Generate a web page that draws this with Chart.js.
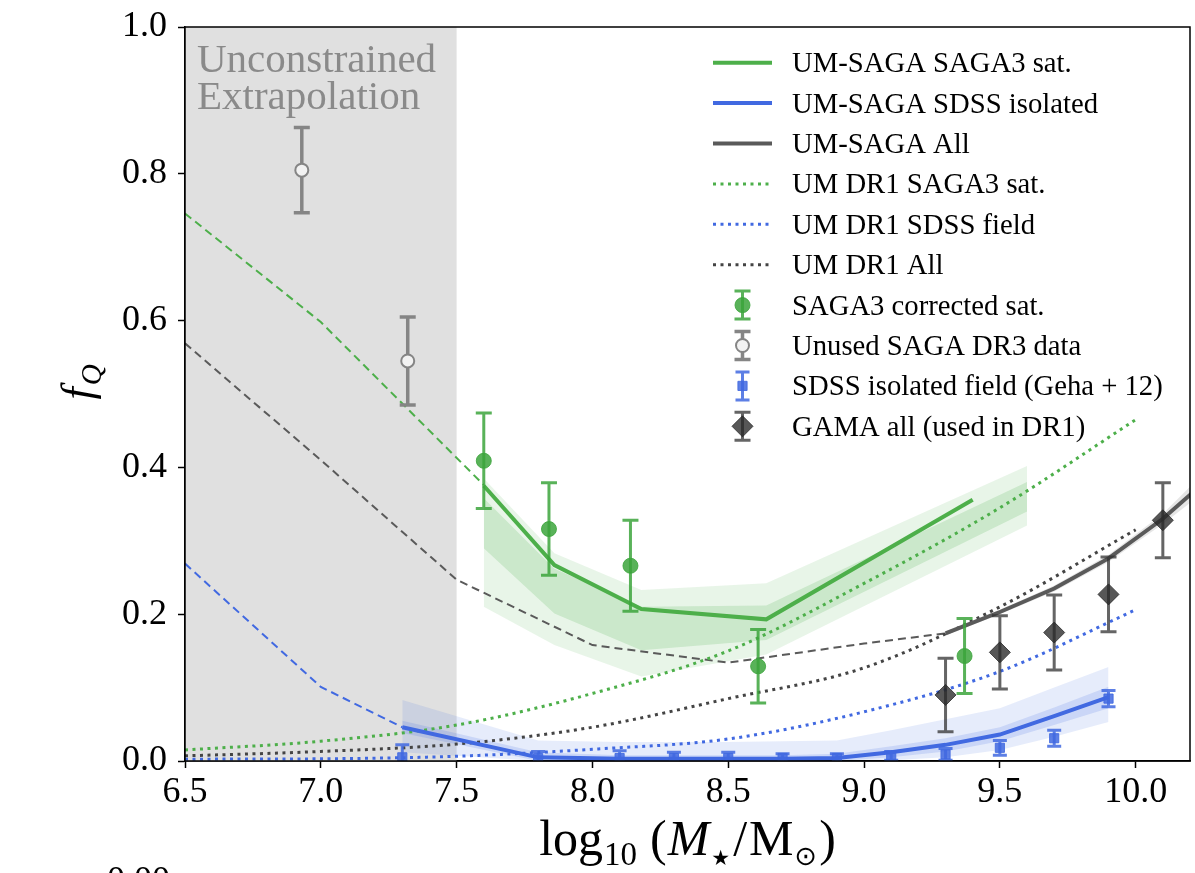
<!DOCTYPE html>
<html>
<head>
<meta charset="utf-8">
<script src="https://cdn.jsdelivr.net/npm/chart.js@4.4.1/dist/chart.umd.min.js"></script>
<style>
  html, body { margin: 0; padding: 0; background: #fff; }
  canvas { display: block; }
</style>
</head>
<body>
<canvas id="fracQ" width="1195" height="873"></canvas>
<script>
const SERIF = '"Liberation Serif", "DejaVu Serif", serif';
const SYMBOLS = '"DejaVu Sans", sans-serif';

// axes
const xTicks = [6.5, 7.0, 7.5, 8.0, 8.5, 9.0, 9.5, 10.0];
const yTicks = [0.0, 0.2, 0.4, 0.6, 0.8, 1.0];
const xLimits = [6.5, 10.2];
const yLimits = [0, 1];
const extrapolationRange = [6.5, 7.5];
const extrapolationText = ["Unconstrained", "Extrapolation"];

// SAGA3 corrected satellites
const sagaX = [7.6, 7.84, 8.14, 8.61, 9.37];
const sagaY = [0.409, 0.316, 0.266, 0.129, 0.143];
const sagaErr = [0.065, 0.063, 0.062, 0.05, 0.051];

// SAGA DR3 points not used in the fit
const unusedX = [6.93, 7.32];
const unusedY = [0.805, 0.545];
const unusedErr = [0.058, 0.06];

// SDSS isolated field (Geha+12)
const sdssX = [7.3, 7.8, 8.1, 8.3, 8.5, 8.7, 8.9, 9.1, 9.3, 9.5, 9.7, 9.9];
const sdssY = [0.005, 0.004, 0.004, 0.004, 0.004, 0.004, 0.004, 0.007, 0.009, 0.018, 0.031, 0.085];
const sdssErr = [0.017, 0.009, 0.01, 0.008, 0.008, 0.006, 0.006, 0.006, 0.008, 0.01, 0.011, 0.011];

// GAMA all
const gamaX = [9.3, 9.5, 9.7, 9.9, 10.1];
const gamaY = [0.09, 0.148, 0.175, 0.227, 0.328];
const gamaErr = [0.05, 0.05, 0.051, 0.051, 0.051];

// UM-SAGA satellites: median and bands
const umSatX = [7.6, 7.86, 8.18, 8.64, 9.4];
const umSatY = [0.375, 0.267, 0.207, 0.193, 0.356];
const umSatBandX = [7.6, 7.86, 8.18, 8.64, 9.6];
const umSatOuterHi = [0.385, 0.283, 0.233, 0.242, 0.402];
const umSatInnerHi = [0.358, 0.262, 0.21, 0.212, 0.38];
const umSatInnerLo = [0.29, 0.201, 0.151, 0.165, 0.34];
const umSatOuterLo = [0.21, 0.158, 0.115, 0.145, 0.321];

// UM-SAGA SDSS isolated: median and bands
const umIsoX = [7.3, 7.8, 8.1, 8.3, 8.5, 8.7, 8.9, 9.1, 9.3, 9.5, 9.7, 9.9];
const umIsoY = [0.046, 0.005, 0.003, 0.003, 0.003, 0.003, 0.004, 0.012, 0.022, 0.036, 0.061, 0.087];
const umIsoOuterHi = [0.083, 0.028, 0.026, 0.026, 0.026, 0.027, 0.028, 0.042, 0.057, 0.072, 0.1, 0.128];
const umIsoInnerHi = [0.055, 0.012, 0.008, 0.008, 0.008, 0.008, 0.01, 0.02, 0.031, 0.046, 0.073, 0.101];
const umIsoInnerLo = [0.038, 0, 0, 0, 0, 0, 0, 0.005, 0.013, 0.027, 0.049, 0.072];
const umIsoOuterLo = [0.012, 0, 0, 0, 0, 0, 0, 0.001, 0.005, 0.015, 0.033, 0.053];

// UM-SAGA all
const umAllX = [9.3, 9.5, 9.7, 9.9, 10.1, 10.3];
const umAllY = [0.174, 0.203, 0.235, 0.276, 0.33, 0.395];
const umAllHi = [0.177, 0.206, 0.239, 0.281, 0.337, 0.41];
const umAllLo = [0.171, 0.2, 0.231, 0.271, 0.323, 0.38];

// extrapolation below the constrained range (dashed)
const extSatX = [6.5, 7.0, 7.6];
const extSatY = [0.746, 0.598, 0.376];
const extIsoX = [6.5, 7.0, 7.3];
const extIsoY = [0.269, 0.101, 0.046];
const extAllX = [6.5, 7.0, 7.5, 8.0, 8.5, 9.0, 9.3];
const extAllY = [0.569, 0.41, 0.247, 0.158, 0.134, 0.16, 0.174];

// UM DR1 predictions (dotted)
const dr1X = [6.5, 7.0, 7.5, 8.0, 8.5, 9.0, 9.5, 10.0];
const dr1Sat = [0.015, 0.027, 0.049, 0.092, 0.15, 0.242, 0.345, 0.465];
const dr1Field = [0.0025, 0.003, 0.0065, 0.016, 0.03, 0.067, 0.122, 0.206];
const dr1All = [0.007, 0.013, 0.023, 0.046, 0.085, 0.127, 0.21, 0.315];

const legendLabels = [
  "UM-SAGA SAGA3 sat.",
  "UM-SAGA SDSS isolated",
  "UM-SAGA All",
  "UM DR1 SAGA3 sat.",
  "UM DR1 SDSS field",
  "UM DR1 All",
  "SAGA3 corrected sat.",
  "Unused SAGA DR3 data",
  "SDSS isolated field (Geha + 12)",
  "GAMA all (used in DR1)",
];

const green = "#4daf4a";
const blue = "#4169e1";
const gray = "#5a5a5a";

function points(xs, ys) {
  return xs.map((x, i) => ({ x: x, y: ys[i] }));
}

function line(label, xs, ys, color, width, dash, order, smooth) {
  return {
    label: label,
    data: points(xs, ys),
    showLine: true,
    borderColor: color,
    borderWidth: width,
    borderDash: dash,
    pointRadius: 0,
    fill: false,
    tension: 0,
    cubicInterpolationMode: smooth ? "monotone" : "default",
    order: order,
  };
}

function markers(label, xs, ys, errs, style) {
  return Object.assign(
    {
      label: label,
      data: points(xs, ys),
      showLine: false,
      errors: errs,
      pointHoverRadius: style.pointRadius,
      order: 1,
    },
    style
  );
}

function band(xs, hi, lo, color) {
  return [
    { label: "", data: points(xs, hi), showLine: true, borderWidth: 0, pointRadius: 0, backgroundColor: color, fill: "+1", order: 20 },
    { label: "", data: points(xs, lo), showLine: true, borderWidth: 0, pointRadius: 0, fill: false, order: 20 },
  ];
}

const greenStyle = {
  pointStyle: "circle", pointRadius: 7.5, backgroundColor: "rgba(60,165,60,0.85)", borderColor: "rgba(60,165,60,0.85)", borderWidth: 1,
  errorColor: "rgba(60,165,60,0.85)", errorWidth: 3, capSize: 8,
};
const unusedStyle = {
  pointStyle: "circle", pointRadius: 6.5, backgroundColor: "#f2f2f2", borderColor: "#858585", borderWidth: 2,
  errorColor: "#858585", errorWidth: 3.5, capSize: 8,
};
const sdssStyle = {
  pointStyle: "rect", pointRadius: 6.5, backgroundColor: "rgba(65,105,225,0.85)", borderColor: "rgba(65,105,225,0.85)", borderWidth: 1,
  errorColor: "rgba(65,105,225,0.85)", errorWidth: 3, capSize: 7,
};
const gamaStyle = {
  pointStyle: "rectRot", pointRadius: 10.5, backgroundColor: "rgba(40,40,40,0.78)", borderColor: "rgba(40,40,40,0.78)", borderWidth: 1,
  errorColor: "rgba(50,50,50,0.75)", errorWidth: 3, capSize: 8,
};

const datasets = [
  markers(legendLabels[6], sagaX, sagaY, sagaErr, greenStyle),
  markers(legendLabels[7], unusedX, unusedY, unusedErr, unusedStyle),
  markers(legendLabels[8], sdssX, sdssY, sdssErr, sdssStyle),
  markers(legendLabels[9], gamaX, gamaY, gamaErr, gamaStyle),
  line(legendLabels[0], umSatX, umSatY, green, 4, [], 5, false),
  line(legendLabels[1], umIsoX, umIsoY, blue, 4, [], 5, false),
  line(legendLabels[2], umAllX, umAllY, gray, 4, [], 5, false),
  line(legendLabels[3], dr1X, dr1Sat, green, 3, [3, 4.5], 8, true),
  line(legendLabels[4], dr1X, dr1Field, blue, 3, [3, 4.5], 8, true),
  line(legendLabels[5], dr1X, dr1All, "#444444", 3, [3, 4.5], 8, true),
  line("", extSatX, extSatY, green, 2, [8, 5], 9, false),
  line("", extIsoX, extIsoY, blue, 2, [8, 5], 9, false),
  line("", extAllX, extAllY, gray, 2, [8, 5], 9, false),
  ...band(umSatBandX, umSatOuterHi, umSatOuterLo, "rgba(77,175,74,0.13)"),
  ...band(umSatBandX, umSatInnerHi, umSatInnerLo, "rgba(77,175,74,0.19)"),
  ...band(umIsoX, umIsoOuterHi, umIsoOuterLo, "rgba(65,105,225,0.13)"),
  ...band(umIsoX, umIsoInnerHi, umIsoInnerLo, "rgba(65,105,225,0.17)"),
  ...band(umAllX, umAllHi, umAllLo, "rgba(90,90,90,0.15)"),
];

function drawMarker(ctx, style, x, y) {
  const r = style.pointRadius;
  ctx.save();
  ctx.fillStyle = style.backgroundColor;
  ctx.strokeStyle = style.borderColor;
  ctx.lineWidth = style.borderWidth;
  ctx.beginPath();
  if (style.pointStyle === "circle") {
    ctx.arc(x, y, r, 0, Math.PI * 2);
  } else if (style.pointStyle === "rect") {
    const s = Math.SQRT1_2 * r;
    ctx.rect(x - s, y - s, 2 * s, 2 * s);
  } else {
    ctx.moveTo(x, y - r);
    ctx.lineTo(x + r, y);
    ctx.lineTo(x, y + r);
    ctx.lineTo(x - r, y);
    ctx.closePath();
  }
  ctx.fill();
  ctx.stroke();
  ctx.restore();
}

function drawErrorBar(ctx, style, x, top, bottom) {
  ctx.save();
  ctx.strokeStyle = style.errorColor;
  ctx.lineWidth = style.errorWidth;
  ctx.beginPath();
  ctx.moveTo(x, top);
  ctx.lineTo(x, bottom);
  ctx.moveTo(x - style.capSize, top);
  ctx.lineTo(x + style.capSize, top);
  ctx.moveTo(x - style.capSize, bottom);
  ctx.lineTo(x + style.capSize, bottom);
  ctx.stroke();
  ctx.restore();
}

// error bars go under their markers
const errorBars = {
  id: "errorBars",
  beforeDatasetDraw(chart, args) {
    const ds = chart.data.datasets[args.index];
    if (!ds.errors) return;
    const ctx = chart.ctx;
    const area = chart.chartArea;
    const xs = chart.scales.x;
    const ys = chart.scales.y;
    ctx.save();
    ctx.beginPath();
    ctx.rect(area.left, area.top, area.right - area.left, area.bottom - area.top);
    ctx.clip();
    ds.data.forEach((p, i) => {
      const px = xs.getPixelForValue(p.x);
      drawErrorBar(ctx, ds, px, ys.getPixelForValue(p.y + ds.errors[i]), ys.getPixelForValue(p.y - ds.errors[i]));
    });
    ctx.restore();
  },
};

// grey "unconstrained" region behind everything
const shadedRegion = {
  id: "shadedRegion",
  beforeDatasetsDraw(chart) {
    const ctx = chart.ctx;
    const area = chart.chartArea;
    const x0 = chart.scales.x.getPixelForValue(extrapolationRange[0]);
    const x1 = chart.scales.x.getPixelForValue(extrapolationRange[1]);
    ctx.save();
    ctx.fillStyle = "#e0e0e0";
    ctx.fillRect(x0, area.top, x1 - x0, area.bottom - area.top);
    ctx.fillStyle = "#8a8a8a";
    ctx.font = `41px ${SERIF}`;
    ctx.textBaseline = "alphabetic";
    ctx.fillText(extrapolationText[0], x0 + 12, area.top + 45);
    ctx.fillText(extrapolationText[1], x0 + 12, area.top + 82);
    ctx.restore();
  },
};

// pieces of text with subscripts drawn one after another
function drawPieces(ctx, pieces, x, y) {
  let cx = x;
  pieces.forEach((p) => {
    ctx.font = p.font;
    ctx.fillText(p.text, cx, y + (p.dy || 0));
    cx += ctx.measureText(p.text).width + (p.gap || 0);
  });
  return cx - x;
}

function piecesWidth(ctx, pieces) {
  let w = 0;
  pieces.forEach((p) => {
    ctx.font = p.font;
    w += ctx.measureText(p.text).width + (p.gap || 0);
  });
  return w;
}

const decorations = {
  id: "decorations",
  afterDraw(chart) {
    const ctx = chart.ctx;
    const area = chart.chartArea;

    // frame
    ctx.save();
    ctx.strokeStyle = "#000";
    ctx.lineWidth = 1.5;
    ctx.strokeRect(area.left, area.top, area.right - area.left, area.bottom - area.top);
    ctx.restore();

    // legend
    ctx.save();
    const lx0 = 713, lx1 = 772, tx = 792;
    legendLabels.forEach((label, i) => {
      const y = 62.7 + i * 40.4;
      const ds = chart.data.datasets.find((d) => d.label === label);
      if (ds.errors) {
        const cx = (lx0 + lx1) / 2;
        drawErrorBar(ctx, ds, cx, y - 14, y + 14);
        drawMarker(ctx, ds, cx, y);
      } else {
        ctx.save();
        ctx.strokeStyle = ds.borderColor;
        ctx.lineWidth = ds.borderWidth;
        ctx.setLineDash(ds.borderDash);
        ctx.beginPath();
        ctx.moveTo(lx0, y);
        ctx.lineTo(lx1, y);
        ctx.stroke();
        ctx.restore();
      }
      ctx.fillStyle = "#000";
      ctx.font = `28.7px ${SERIF}`;
      ctx.textBaseline = "alphabetic";
      ctx.fillText(label, tx, y + 9.5);
    });
    ctx.restore();

    // x title: log10 (M*/Msun)
    ctx.save();
    ctx.fillStyle = "#000";
    ctx.textBaseline = "alphabetic";
    const big = `50px ${SERIF}`;
    const bigIt = `italic 50px ${SERIF}`;
    const small = `33px ${SERIF}`;
    const xPieces = [
      { text: "log", font: big, gap: 1 },
      { text: "10", font: small, dy: 10, gap: 13 },
      { text: "(", font: big, gap: 1 },
      { text: "M", font: bigIt, gap: 2 },
      { text: "★", font: `21px ${SYMBOLS}`, dy: 10, gap: 3 },
      { text: "/", font: big, gap: 2 },
      { text: "M", font: big, gap: 1 },
      { text: "⊙", font: `27px ${SYMBOLS}`, dy: 10, gap: 2 },
      { text: ")", font: big },
    ];
    const w = piecesWidth(ctx, xPieces);
    drawPieces(ctx, xPieces, (area.left + area.right) / 2 - w / 2, 855);

    // y title: f_Q
    ctx.translate(80, 382);
    ctx.rotate(-Math.PI / 2);
    const yPieces = [
      { text: "f", font: `italic 44px ${SERIF}`, gap: 2 },
      { text: "Q", font: `italic 29px ${SERIF}`, dy: 9 },
    ];
    const wy = piecesWidth(ctx, yPieces);
    drawPieces(ctx, yPieces, -wy / 2, 12);
    ctx.restore();

    // tick label of the panel below, cut by the page edge
    ctx.save();
    ctx.fillStyle = "#000";
    ctx.font = `36px ${SERIF}`;
    ctx.fillText("0.00", 107, 891);
    ctx.restore();
  },
};

const tickFont = { family: SERIF, size: 36 };

new Chart(document.getElementById("fracQ"), {
  type: "scatter",
  data: { datasets: datasets },
  options: {
    responsive: false,
    devicePixelRatio: 1,
    animation: false,
    events: [],
    layout: { autoPadding: false, padding: { top: 27, right: 5, left: 0, bottom: 0 } },
    plugins: {
      legend: { display: false },
      tooltip: { enabled: false },
      filler: { propagate: false },
    },
    scales: {
      x: {
        type: "linear",
        min: xLimits[0],
        max: xLimits[1],
        afterBuildTicks: (scale) => {
          scale.ticks = xTicks.map((v) => ({ value: v }));
        },
        afterFit: (scale) => {
          scale.height = 112;
          scale.paddingLeft = 0;
          scale.paddingRight = 0;
        },
        grid: { drawOnChartArea: false, tickLength: 7, tickColor: "#000", tickWidth: 1.5 },
        border: { display: true, color: "#000", width: 1.5 },
        ticks: {
          color: "#000",
          font: tickFont,
          padding: 3,
          maxRotation: 0,
          autoSkip: false,
          callback: (v) => v.toFixed(1),
        },
      },
      y: {
        type: "linear",
        min: yLimits[0],
        max: yLimits[1],
        afterBuildTicks: (scale) => {
          scale.ticks = yTicks.map((v) => ({ value: v }));
        },
        afterFit: (scale) => {
          scale.width = 185;
          scale.paddingTop = 0;
          scale.paddingBottom = 0;
        },
        grid: { drawOnChartArea: false, tickLength: 7, tickColor: "#000", tickWidth: 1.5 },
        border: { display: true, color: "#000", width: 1.5 },
        ticks: {
          color: "#000",
          font: tickFont,
          padding: 11,
          autoSkip: false,
          callback: (v) => v.toFixed(1),
        },
      },
    },
  },
  plugins: [shadedRegion, errorBars, decorations],
});
</script>
</body>
</html>
